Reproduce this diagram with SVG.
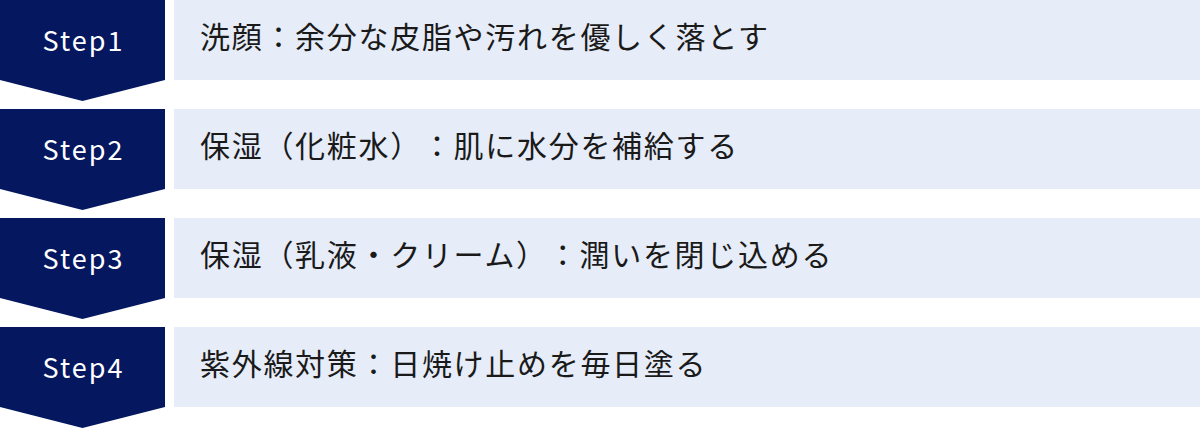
<svg xmlns="http://www.w3.org/2000/svg" width="1200" height="429" viewBox="0 0 1200 429">
<style>
.chev{fill:#04175F}
.bar{fill:#E6ECF8}
.step{font-family:"Noto Sans CJK JP","Noto Sans",sans-serif;font-size:27px;fill:#FFFFFF;text-anchor:middle;letter-spacing:2px}
.lbl{font-family:"Noto Sans CJK JP","Noto Sans",sans-serif;font-size:30px;fill:#1A1A1A;letter-spacing:1.7px;text-spacing-trim:space-all}
</style>
<g id="step1">
<polygon class="chev" points="0,0 165,0 165,80 82.5,101 0,80"/>
<rect class="bar" x="174" y="0" width="1026" height="80"/>
<text class="step" x="83.5" y="51">Step1</text>
<text class="lbl" x="200" y="47.5">洗顔：余分な皮脂や汚れを優しく落とす</text>
</g>
<g id="step2">
<polygon class="chev" points="0,109 165,109 165,189 82.5,210 0,189"/>
<rect class="bar" x="174" y="109" width="1026" height="80"/>
<text class="step" x="83.5" y="160">Step2</text>
<text class="lbl" x="200" y="156.5">保湿（化粧水）：肌に水分を補給する</text>
</g>
<g id="step3">
<polygon class="chev" points="0,218 165,218 165,298 82.5,319 0,298"/>
<rect class="bar" x="174" y="218" width="1026" height="80"/>
<text class="step" x="83.5" y="269">Step3</text>
<text class="lbl" x="200" y="265.5">保湿（乳液・クリーム）：潤いを閉じ込める</text>
</g>
<g id="step4">
<polygon class="chev" points="0,327 165,327 165,407 82.5,428 0,407"/>
<rect class="bar" x="174" y="327" width="1026" height="80"/>
<text class="step" x="83.5" y="378">Step4</text>
<text class="lbl" x="200" y="374.5">紫外線対策：日焼け止めを毎日塗る</text>
</g>
<g id="connectors"/>
</svg>
